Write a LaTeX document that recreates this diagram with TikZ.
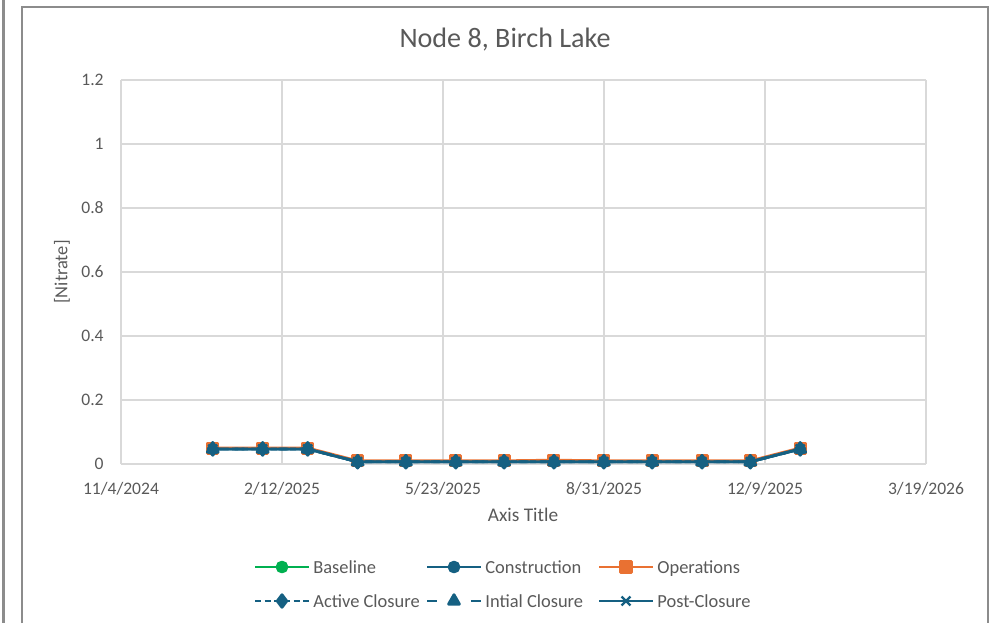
\documentclass[tikz,border=0pt]{standalone}
\usepackage{fontspec}
\setmainfont{Carlito}
\usetikzlibrary{plotmarks}
\definecolor{chtext}{HTML}{595959}
\definecolor{chgrid}{HTML}{D9D9D9}
\definecolor{chframe}{HTML}{8C8C8C}
\definecolor{chgreen}{HTML}{00B050}
\definecolor{chblue}{HTML}{156082}
\definecolor{chorange}{HTML}{E97132}
\tikzset{
  lbl/.style={text=chtext, font=\fontsize{10}{12}\selectfont, inner sep=0pt},
  keylbl/.style={lbl, anchor=west, font=\fontsize{10.5}{12}\selectfont, text height=7.2pt, text depth=2.2pt},
  gridline/.style={draw=chgrid, line width=0.8pt},
  frameline/.style={draw=chframe, line width=1.4pt},
  series/.style={line width=1.6pt, line join=round},
  basel/.style={series, draw=chgreen, mark=*, mark size=2.8pt, mark options={fill=chgreen, solid}},
  constr/.style={series, draw=chblue, mark=*, mark size=2.8pt, mark options={fill=chblue, solid}},
  opsl/.style={series, draw=chorange, mark=square*, mark size=3.2pt, mark options={fill=chorange, solid}},
  actcl/.style={series, draw=chblue, dash pattern=on 3.5pt off 2pt, mark=diamond*, mark size=3.6pt, mark options={fill=chblue, solid}},
  inicl/.style={series, draw=chblue, dash pattern=on 5.5pt off 7pt, mark=triangle*, mark size=3.6pt, mark options={fill=chblue, solid}},
  postcl/.style={series, draw=chblue, mark=x, mark size=3.6pt, mark options={solid, line width=1.3pt}},
}

\begin{document}
\begin{tikzpicture}[x={(0.02cm,0)}, y={(0,-0.02cm)}]
  \useasboundingbox (0,0) rectangle (1000,623);
  % chart frames
  \draw[frameline] (3.5,0) -- (3.5,623);
  \draw[frameline] (22,623) -- (22,7) -- (988,7) -- (988,623);
  \node[lbl, font=\fontsize{16}{18}\selectfont] (title) at (505,40) {Node 8, Birch Lake};

  % grid and tick labels
  \foreach \i/\v in {0/0,1/0.2,2/0.4,3/0.6,4/0.8,5/1,6/1.2}{
    \draw[gridline] (121,464-64*\i) -- (926,464-64*\i);
    \node[lbl, anchor=east] (ylab\i) at (104,464-64*\i) {\v};
  }
  \foreach \i/\d in {0/{11/4/2024},1/{2/12/2025},2/{5/23/2025},3/{8/31/2025},4/{12/9/2025},5/{3/19/2026}}{
    \draw[gridline] (121+161*\i,80) -- (121+161*\i,464);
    \node[lbl] (xlab\i) at (121+161*\i,489) {\d};
  }
  \node[lbl, font=\fontsize{11}{13}\selectfont] (xtitle) at (523,515) {Axis Title};
  \node[lbl, font=\fontsize{10.5}{13}\selectfont, rotate=90] (ytitle) at (62,272) {[Nitrate]};

  % data, days from 11/4/2024
  \begin{scope}[shift={(121,464)}, x=0.0322cm, y=6.4cm]
    \draw[constr] plot coordinates {(57,0.047) (88,0.047) (116,0.047) (147,0.007) (177,0.007) (208,0.007) (238,0.007) (269,0.007) (300,0.007) (330,0.007) (361,0.007) (391,0.007) (422,0.047)};
    \draw[opsl, mark size=2.9pt] plot coordinates {(57,0.050) (88,0.050) (116,0.050) (147,0.010) (177,0.010) (208,0.010) (238,0.010) (269,0.012) (300,0.010) (330,0.010) (361,0.010) (391,0.010) (422,0.050)};
    \draw[actcl] plot coordinates {(57,0.047) (88,0.047) (116,0.047) (147,0.007) (177,0.007) (208,0.007) (238,0.007) (269,0.007) (300,0.007) (330,0.007) (361,0.007) (391,0.007) (422,0.047)};
    \draw[inicl] plot coordinates {(57,0.047) (88,0.047) (116,0.047) (147,0.007) (177,0.007) (208,0.007) (238,0.007) (269,0.007) (300,0.007) (330,0.007) (361,0.007) (391,0.007) (422,0.047)};
    \draw[postcl] plot coordinates {(57,0.047) (88,0.047) (116,0.047) (147,0.007) (177,0.007) (208,0.007) (238,0.007) (269,0.007) (300,0.007) (330,0.007) (361,0.007) (391,0.007) (422,0.047)};
  \end{scope}

  % legend
  \foreach \nm/\st/\txt/\x/\y in {kbase/basel/Baseline/313/567, kcons/constr/Construction/485/567, kops/opsl/Operations/657/567,
      kact/actcl/Active Closure/313/601, kini/inicl/Intial Closure/485/601, kpost/postcl/Post-Closure/657/601}{
    \coordinate (\nm a) at (\x-58,\y);
    \coordinate (\nm b) at (\x-4,\y);
    \draw[\st, mark=none] (\nm a) -- (\nm b);
    \draw[\st] plot coordinates {(\x-31,\y)};
    \node[keylbl] (\nm) at (\x,\y+2) {\txt};
  }
\end{tikzpicture}
\end{document}
